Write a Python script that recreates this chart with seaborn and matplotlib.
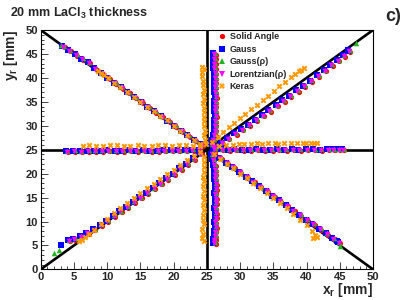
import numpy as np
import pandas as pd
import matplotlib
matplotlib.use("Agg")
import matplotlib.pyplot as plt
from matplotlib.ticker import MultipleLocator
from matplotlib.lines import Line2D
import seaborn as sns

# ---- reconstructed positions, mm ----
# shared by Solid Angle / Gauss / Gauss(rho) / Lorentzian(rho)
ray_L_x = [3.9, 5.0, 6.0, 7.1, 8.1, 9.2, 10.2, 11.3, 12.3, 13.4, 14.4, 15.5, 16.5, 17.6, 18.6, 19.7, 20.7, 21.8, 22.8, 23.8]
ray_L_y = [24.6, 24.7, 24.6, 24.7, 24.7, 24.7, 24.8, 24.7, 24.7, 24.8, 24.7, 24.8, 24.7, 24.7, 24.8, 24.8, 24.8, 24.8, 24.9, 24.9]
ray_R_x = [26.1, 27.2, 28.3, 29.3, 30.4, 31.5, 32.5, 33.6, 34.7, 35.7, 36.8, 37.9, 38.9, 40.0, 41.1, 42.1, 43.2, 44.0, 44.8, 45.5]
ray_R_y = [25.1, 25.0, 24.9, 25.0, 24.9, 24.9, 25.0, 24.9, 24.9, 25.0, 24.9, 25.0, 24.9, 25.0, 25.0, 24.9, 25.0, 25.0, 25.0, 25.0]
ray_U_x = [25.7, 25.9, 26.1, 26.2, 26.2, 26.2, 26.3, 26.2, 26.2, 26.2, 26.3, 26.2, 26.2, 26.2, 26.2, 26.2, 26.1, 26.1, 26.1, 26.1]
ray_U_y = [26.0, 27.0, 28.0, 29.0, 30.0, 31.0, 32.0, 33.0, 34.0, 35.0, 36.0, 37.0, 38.0, 39.0, 40.0, 41.0, 42.0, 43.0, 44.0, 45.0]
ray_D_x = [25.7, 25.9, 26.1, 26.2, 26.2, 26.2, 26.3, 26.3, 26.2, 26.3, 26.3, 26.2, 26.3, 26.3, 26.2, 26.3, 26.2, 26.2, 26.1, 26.1]
ray_D_y = [24.0, 22.9, 21.8, 20.8, 19.8, 18.8, 17.8, 16.8, 15.8, 14.8, 13.8, 12.8, 11.8, 10.8, 9.8, 8.8, 7.9, 7.0, 6.2, 5.5]
ray_UR_x = [26.2, 27.2, 28.2, 29.3, 30.3, 31.3, 32.4, 33.4, 34.4, 35.5, 36.5, 37.5, 38.6, 39.6, 40.6, 41.7, 42.7, 43.7, 44.7, 45.6, 46.4]
ray_UR_y = [25.6, 26.4, 27.3, 28.3, 29.2, 30.1, 31.2, 32.1, 33.1, 34.2, 35.2, 36.2, 37.3, 38.3, 39.3, 40.4, 41.5, 42.6, 43.6, 44.6, 45.6]
ray_LL_x = [24.0, 23.0, 22.0, 21.0, 20.0, 19.0, 18.0, 17.0, 16.0, 15.0, 14.0, 13.0, 12.0, 11.0, 10.0, 9.0, 8.0, 7.0, 6.0, 5.0, 4.2]
ray_LL_y = [24.2, 23.1, 22.0, 21.0, 19.9, 18.9, 17.9, 16.9, 15.9, 15.0, 14.0, 13.0, 12.1, 11.1, 10.1, 9.2, 8.3, 7.5, 6.8, 6.3, 6.0]
ray_UL_x = [24.2, 23.2, 22.2, 21.2, 20.2, 19.2, 18.2, 17.2, 16.2, 15.2, 14.2, 13.2, 12.2, 11.2, 10.2, 9.2, 8.2, 7.2, 6.2, 5.3, 4.3, 3.4]
ray_UL_y = [26.0, 26.9, 27.9, 28.9, 29.9, 30.9, 31.9, 32.9, 33.9, 34.9, 35.9, 36.9, 37.9, 38.9, 39.9, 40.9, 41.9, 43.2, 43.9, 44.8, 45.7, 46.5]
ray_LR_x = [26.0, 27.0, 28.0, 29.0, 30.0, 31.0, 32.0, 33.0, 34.0, 35.0, 36.0, 37.0, 38.0, 39.0, 40.0, 41.0, 42.0, 43.0, 44.0, 44.8]
ray_LR_y = [24.2, 23.2, 22.2, 21.3, 20.3, 19.3, 18.3, 17.3, 16.3, 15.3, 14.3, 13.3, 12.3, 11.3, 10.3, 9.4, 8.4, 7.4, 6.4, 5.6]

# small per-method shifts seen around the shared positions
series_shift = {
    "Solid Angle": (0.2, -0.15),
    "Gauss": (-0.15, 0.1),
    "Gauss(ρ)": (0.1, 0.2),
    "Lorentzian(ρ)": (0.0, 0.0),
}

# isolated end points
gauss_extra_x = [3.0, 44.6, 46.2]
gauss_extra_y = [5.2, 6.0, 45.9]
gaussrho_extra_x = [2.0, 2.8, 47.4, 45.0, 3.0]
gaussrho_extra_y = [3.5, 4.0, 47.3, 4.9, 46.8]

# Keras (neural net) reconstruction
keras_x = [6.3, 7.3, 8.3, 9.4, 10.4, 11.5, 12.5, 13.5, 14.6, 15.6, 16.7, 17.7, 18.7, 19.8, 20.8, 21.9, 22.9, 23.9,
           26.8, 27.9, 28.9, 29.8, 30.6, 31.6, 32.5, 33.3, 34.2, 35.2, 35.7, 36.6, 37.7, 38.6, 39.5, 39.9, 40.7, 41.1, 41.5,
           24.8, 24.7, 24.6, 24.7, 24.6, 24.5, 24.6, 24.5, 24.5, 24.4, 24.5, 24.4, 24.5, 24.4, 24.4, 24.3, 24.2, 24.5, 24.3,
           24.6, 24.5, 24.6, 24.5, 24.4, 24.5, 24.4, 24.5, 24.4, 24.5, 24.4, 24.5, 24.4, 24.4, 24.5, 24.3, 24.4, 24.3, 24.5,
           25.8, 26.6, 27.4, 28.3, 29.1, 30.0, 30.8, 31.7, 32.5, 33.4, 34.2, 35.1, 35.9, 36.8, 37.6, 38.3, 38.8, 39.2, 39.6,
           24.0, 23.0, 22.0, 21.0, 20.0, 19.0, 18.0, 17.0, 16.0, 15.0, 14.0, 13.0, 12.0, 11.0, 10.2, 9.6, 9.0, 8.6,
           24.0, 23.0, 22.0, 21.0, 20.0, 19.0, 18.0, 17.0, 16.0, 15.0, 14.0, 13.0, 12.0, 11.0, 10.0, 9.0, 8.0, 7.3, 6.7, 6.2, 5.8,
           26.0, 27.0, 28.0, 29.0, 30.0, 31.0, 32.0, 33.0, 34.0, 35.0, 36.0, 37.0, 38.0, 39.0, 40.0, 40.8, 41.2, 41.6, 41.0]
keras_y = [25.8, 25.9, 25.8, 25.8, 25.9, 26.0, 25.8, 25.8, 25.9, 25.8, 25.8, 25.9, 25.9, 25.8, 26.0, 25.9, 25.8, 25.7,
           25.8, 26.0, 26.0, 26.1, 26.2, 26.2, 26.3, 26.2, 26.3, 26.3, 26.2, 26.3, 26.4, 26.3, 26.4, 26.3, 26.4, 26.3, 26.4,
           26.2, 27.1, 28.0, 29.0, 29.9, 30.9, 31.8, 32.8, 33.7, 34.7, 35.6, 36.6, 37.5, 38.5, 39.4, 40.3, 41.2, 41.8, 42.2,
           23.4, 22.4, 21.4, 20.4, 19.4, 18.4, 17.4, 16.4, 15.4, 14.4, 13.4, 12.4, 11.4, 10.4, 9.4, 8.4, 7.4, 6.6, 5.9,
           26.6, 27.6, 28.6, 29.7, 30.6, 31.6, 32.5, 33.5, 34.4, 35.4, 36.3, 37.3, 38.2, 39.2, 40.1, 40.9, 41.4, 41.7, 42.0,
           26.1, 27.1, 28.1, 29.0, 30.0, 31.1, 32.0, 33.0, 34.0, 35.0, 36.0, 37.0, 38.0, 39.0, 39.9, 40.6, 41.0, 41.4,
           24.6, 23.7, 22.8, 21.8, 20.8, 19.9, 18.9, 17.9, 16.9, 15.9, 14.9, 13.8, 12.8, 11.7, 10.6, 9.5, 8.3, 7.4, 6.8, 6.2, 5.9,
           24.1, 23.1, 22.1, 21.1, 20.0, 19.0, 18.0, 17.0, 16.0, 15.0, 13.9, 12.8, 11.6, 10.4, 9.3, 8.0, 7.2, 6.7, 6.6]

methods = ["Solid Angle", "Gauss", "Gauss(ρ)", "Lorentzian(ρ)", "Keras"]
colors = ["#ff0000", "#0000ff", "#22b422", "#ff00ff", "#ff9900"]
marks = ["o", "s", "^", "v", "X"]
sizes = [14, 14, 16, 16, 18]

# ---- build the table ----
shared_x = ray_L_x + ray_R_x + ray_U_x + ray_D_x + ray_UR_x + ray_LL_x + ray_UL_x + ray_LR_x
shared_y = ray_L_y + ray_R_y + ray_U_y + ray_D_y + ray_UR_y + ray_LL_y + ray_UL_y + ray_LR_y
frames = []
for m in methods[:4]:
    dx, dy = series_shift[m]
    xs = [v + dx for v in shared_x]
    ys = [v + dy for v in shared_y]
    if m == "Gauss":
        xs += gauss_extra_x
        ys += gauss_extra_y
    if m == "Gauss(ρ)":
        xs += gaussrho_extra_x
        ys += gaussrho_extra_y
    frames.append(pd.DataFrame({"x": xs, "y": ys, "method": m}))
frames.append(pd.DataFrame({"x": keras_x, "y": keras_y, "method": "Keras"}))
df = pd.concat(frames, ignore_index=True)

# ---- plot ----
sns.set_style("white")
plt.rcParams["font.family"] = ["Liberation Sans", "DejaVu Sans"]
plt.rcParams["font.weight"] = "bold"
plt.rcParams["mathtext.fontset"] = "custom"
plt.rcParams["mathtext.rm"] = "Liberation Sans:bold"
plt.rcParams["mathtext.it"] = "Liberation Sans:bold"
plt.rcParams["mathtext.bf"] = "Liberation Sans:bold"

fig = plt.figure(figsize=(4.15, 3.0), dpi=100)
ax = fig.add_axes([0.098, 0.102, 0.801, 0.798])

# reference lines through the crystal centre
ax.plot([0, 50], [0, 50], color="black", lw=1.9, zorder=1)
ax.plot([0, 50], [50, 0], color="black", lw=1.9, zorder=1)
ax.axhline(25, color="black", lw=1.9, zorder=1)
ax.axvline(25, color="black", lw=1.9, zorder=1)

# one call per method keeps the drawing order (Keras on top)
for m, c, mk, sz in zip(methods, colors, marks, sizes):
    sns.scatterplot(data=df[df["method"] == m], x="x", y="y", color=c, marker=mk,
                    s=sz, linewidth=0, legend=False, ax=ax, zorder=3)

ax.set_xlim(0, 50)
ax.set_ylim(0, 50)
ax.xaxis.set_major_locator(MultipleLocator(5))
ax.yaxis.set_major_locator(MultipleLocator(5))
ax.xaxis.set_minor_locator(MultipleLocator(1))
ax.yaxis.set_minor_locator(MultipleLocator(1))
ax.tick_params(which="both", direction="in", bottom=True, left=True, top=False, right=False,
               labelsize=8, width=0.6, pad=2)
ax.tick_params(which="major", length=5)
ax.tick_params(which="minor", length=2.5)
for lab in ax.get_xticklabels() + ax.get_yticklabels():
    lab.set_fontweight("bold")
for sp in ax.spines.values():
    sp.set_color("black")
    sp.set_linewidth(0.8)

ax.set_xlabel("x$_r$ [mm]", fontsize=10, fontweight="bold", ha="right", va="top")
ax.xaxis.set_label_coords(1.0, -0.05)
ax.set_ylabel("y$_r$ [mm]", fontsize=10, fontweight="bold", loc="top", labelpad=4)

handles = [Line2D([], [], ls="none", marker=mk, color=c, markersize=3.8, markeredgewidth=0)
           for mk, c in zip(marks, colors)]
leg = ax.legend(handles, methods, loc="upper left", bbox_to_anchor=(0.52, 1.005),
                frameon=False, fontsize=6.5, handlelength=1.0, handletextpad=0.4,
                labelspacing=0.38, borderaxespad=0)
for t in leg.get_texts():
    t.set_fontweight("bold")

fig.text(0.025, 0.955, "20 mm LaCl$_3$ thickness", fontsize=9, fontweight="bold", va="center")
fig.text(0.967, 0.945, "c)", fontsize=13, fontweight="bold", ha="right", va="center")

plt.savefig("out.png", dpi=100)
